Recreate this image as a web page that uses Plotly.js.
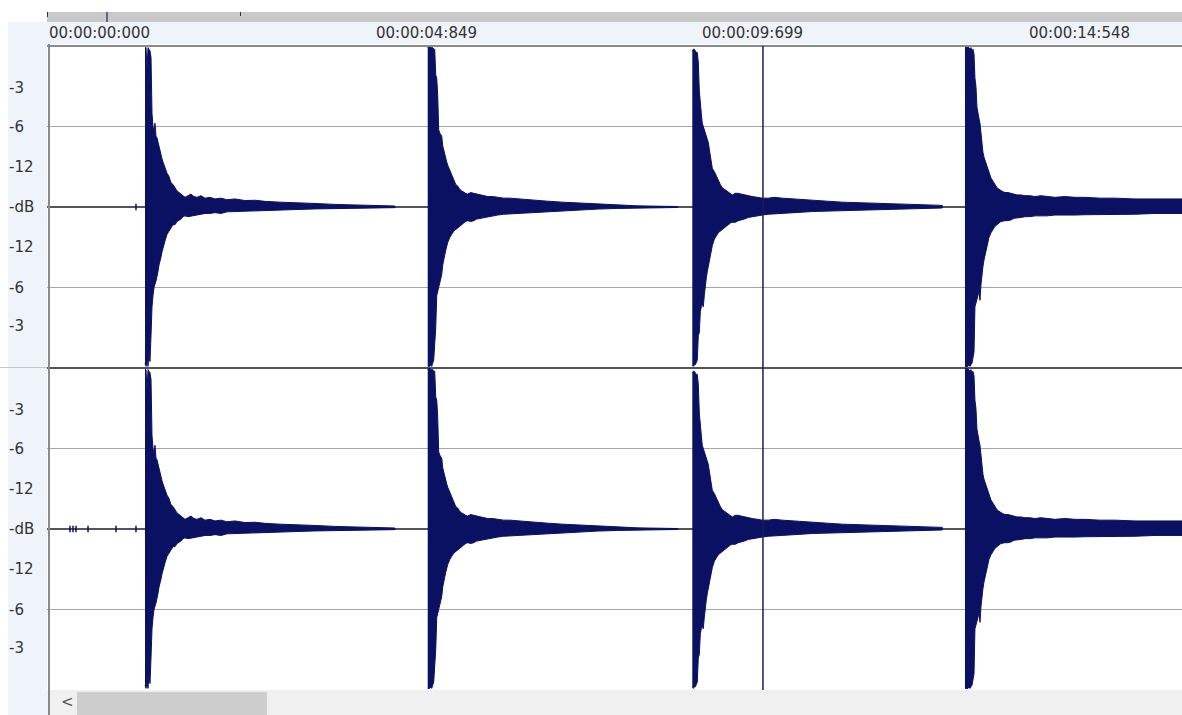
<!DOCTYPE html>
<html><head><meta charset="utf-8">
<script src="https://cdn.plot.ly/plotly-3.0.1.min.js"></script>
<style>
html,body{margin:0;padding:0;background:#fff;width:1182px;height:715px;overflow:hidden;font-family:"DejaVu Sans",sans-serif}
.bg{position:absolute}
#chart{position:absolute;left:0;top:0;width:1182px;height:715px;z-index:1}
.fg{position:absolute;z-index:2;pointer-events:none}
</style></head><body>
<div class="bg" style="left:8px;top:22px;width:40px;height:693px;background:#eef4fa"></div>
<div class="bg" style="left:47px;top:22px;width:1135px;height:22px;background:#eef4fa"></div>
<div class="bg" style="left:47px;top:12px;width:1135px;height:10px;background:#c9c9c9"></div>
<div class="bg" style="left:47px;top:12px;width:1px;height:5px;background:#333"></div>
<div class="bg" style="left:106px;top:12px;width:2px;height:10px;background:#56679a"></div>
<div class="bg" style="left:240px;top:12px;width:1px;height:4px;background:#333"></div>
<div class="bg" style="left:0px;top:367px;width:48px;height:1px;background:#c4c8cc"></div>
<div class="bg" style="left:50px;top:690px;width:1132px;height:25px;background:#f0f0f0"></div>
<div class="bg" style="left:77px;top:692px;width:190px;height:23px;background:#cdcdcd"></div>
<div class="bg" style="left:61px;top:693px;font-size:15px;color:#555">&lt;</div>
<div id="chart"></div>
<div class="fg" style="left:48px;top:44px;width:2px;height:671px;background:#8a8a8a"></div>
<script>
// time offsets (s) after each onset at which the envelope was read
const offsets = [
 0,0.015,0.030,0.045,0.059,0.074,0.089,0.104,0.119,0.134,0.148,0.163,0.178,0.193,0.208,0.223,0.238,0.252,0.267,0.282,0.297,
 0.327,0.356,0.386,0.416,0.445,0.475,0.505,0.534,0.564,0.594,
 0.638,0.683,0.727,0.772,0.831,0.891,0.965,1.039,1.128,1.217,1.336,
 1.485,1.633,1.782,2.004,2.227,2.524,2.821,3.118,3.415,3.711];
const hitTimes = [1.455, 5.652, 9.580, 13.628];
const cursorTime = 10.629;
const rulerTimes = [0, 4.849, 9.699, 14.548];
const rulerLabels = ["00:00:00:000","00:00:04:849","00:00:09:699","00:00:14:548"];
const dbTickVals = [0.74, 0.5, 0.25, 0, -0.25, -0.5, -0.74];
const dbTickText = ["-3","-6","-12","-dB","-12","-6","-3"];
const gridVals = [-0.5, 0.5];

const hit1Upper = [0.99,0.99,0.86,0.99,0.98,0.97,0.93,0.58,0.50,0.47,0.52,0.44,0.43,0.40,0.38,0.35,0.33,0.30,0.28,0.26,0.25,
 0.21,0.19,0.15,0.14,0.12,0.10,0.09,0.08,0.07,0.06,
 0.07,0.08,0.065,0.06,0.07,0.055,0.06,0.05,0.055,0.045,0.05,
 0.04,0.042,0.035,0.03,0.028,0.022,0.016,0.012,0.009,0.006];
const hit1Lower = [0.97,0.99,0.95,0.99,0.90,0.96,0.80,0.62,0.55,0.50,0.48,0.46,0.44,0.40,0.36,0.33,0.31,0.28,0.25,0.23,0.21,
 0.17,0.15,0.13,0.11,0.11,0.09,0.08,0.075,0.06,0.055,
 0.06,0.055,0.05,0.05,0.045,0.04,0.04,0.035,0.04,0.03,0.03,
 0.028,0.026,0.022,0.02,0.016,0.012,0.009,0.007,0.005,0.004];
const hit2Upper = [0.99,1.0,1.0,0.99,0.99,0.99,0.98,0.98,0.82,0.80,0.70,0.48,0.46,0.45,0.44,0.38,0.35,0.33,0.30,0.28,0.26,
 0.23,0.19,0.16,0.14,0.13,0.11,0.10,0.09,0.085,0.08,
 0.09,0.085,0.08,0.075,0.07,0.065,0.065,0.06,0.055,0.055,0.05,
 0.045,0.04,0.036,0.03,0.025,0.016,0.01,0.007,0.005,0.003];
const hit2Lower = [0.99,0.99,0.99,0.98,0.99,0.97,0.95,0.90,0.75,0.55,0.52,0.50,0.48,0.45,0.42,0.36,0.33,0.30,0.27,0.24,0.22,
 0.19,0.17,0.15,0.14,0.13,0.12,0.11,0.10,0.09,0.085,
 0.09,0.085,0.075,0.07,0.065,0.06,0.055,0.05,0.045,0.042,0.04,
 0.035,0.03,0.028,0.024,0.02,0.013,0.009,0.006,0.004,0.003];
const hit3Upper = [0.97,0.98,0.98,0.97,0.96,0.96,0.90,0.72,0.62,0.58,0.52,0.50,0.48,0.46,0.44,0.42,0.40,0.36,0.32,0.26,0.24,
 0.22,0.19,0.16,0.14,0.12,0.11,0.10,0.09,0.08,0.075,
 0.085,0.085,0.08,0.075,0.07,0.065,0.06,0.055,0.055,0.06,0.055,
 0.05,0.045,0.042,0.036,0.03,0.026,0.022,0.018,0.014,0.01];
const hit3Lower = [0.98,0.99,0.98,0.98,0.97,0.95,0.80,0.78,0.65,0.62,0.60,0.62,0.55,0.48,0.44,0.40,0.36,0.33,0.30,0.27,0.24,
 0.20,0.18,0.16,0.15,0.14,0.13,0.12,0.11,0.10,0.095,
 0.095,0.085,0.08,0.075,0.065,0.06,0.055,0.05,0.045,0.042,0.04,
 0.035,0.032,0.028,0.025,0.022,0.018,0.015,0.012,0.009,0.006];
const hit4Upper = [1.0,0.99,1.0,0.99,0.99,0.98,0.99,0.97,0.98,0.95,0.80,0.75,0.62,0.57,0.55,0.52,0.45,0.38,0.34,0.31,0.29,
 0.25,0.21,0.18,0.16,0.14,0.12,0.11,0.10,0.095,0.09,
 0.09,0.085,0.08,0.075,0.075,0.07,0.07,0.065,0.07,0.065,0.06,
 0.065,0.06,0.06,0.055,0.055,0.05,0.05,0.05,0.05,0.05];
const hit4Lower = [0.99,0.99,0.99,0.99,0.98,0.99,0.98,0.97,0.95,0.90,0.62,0.60,0.58,0.55,0.52,0.58,0.48,0.42,0.37,0.33,0.30,
 0.24,0.19,0.16,0.14,0.12,0.11,0.10,0.09,0.088,0.085,
 0.085,0.08,0.07,0.07,0.065,0.06,0.06,0.055,0.055,0.055,0.05,
 0.05,0.05,0.048,0.045,0.045,0.045,0.04,0.04,0.04,0.04];

// channel 2 reads the same as channel 1
const ch1Upper = [hit1Upper, hit2Upper, hit3Upper, hit4Upper];
const ch1Lower = [hit1Lower, hit2Lower, hit3Lower, hit4Lower];
const ch2Upper = ch1Upper;
const ch2Lower = ch1Lower;

// tiny clicks before the first hit
const ch1ClickTimes = [1.321];
const ch2ClickTimes = [0.341, 0.386, 0.431, 0.609, 1.024, 1.321];
const clickAmp = 0.02;

const navy = '#0b1162';
const traces = [];
function addChannel(ups, los, yaxis, clicks) {
  traces.push({x:[0, 16.85], y:[0,0], yaxis:yaxis, mode:'lines', line:{color:'#1a1a2e', width:1.5}, hoverinfo:'skip'});
  hitTimes.forEach((t0, i) => {
    const xs = offsets.map(o => t0 + o);
    const x = xs.concat(xs.slice().reverse());
    const y = ups[i].concat(los[i].slice().reverse().map(v => -v));
    traces.push({x:x, y:y, yaxis:yaxis, mode:'lines', fill:'toself', fillcolor:navy,
      line:{color:navy, width:1}, hoverinfo:'skip'});
  });
  const cx = [], cy = [];
  clicks.forEach(t => { cx.push(t, t, null); cy.push(-clickAmp, clickAmp, null); });
  traces.push({x:cx, y:cy, yaxis:yaxis, mode:'lines', line:{color:navy, width:1.5}, hoverinfo:'skip'});
}
addChannel(ch1Upper, ch1Lower, 'y', ch1ClickTimes);
addChannel(ch2Upper, ch2Lower, 'y2', ch2ClickTimes);

const font = {family:'DejaVu Sans, sans-serif', size:15, color:'#333'};
const annotations = [];
rulerTimes.forEach((t, i) => annotations.push({x:t, xref:'x', y:1.0202, yref:'paper', text:rulerLabels[i],
  showarrow:false, xanchor:'left', yanchor:'middle', font:font}));
['y','y2'].forEach(ax => dbTickVals.forEach((v, i) => annotations.push({x:-0.0352, xref:'paper', y:v, yref:ax,
  text:dbTickText[i], showarrow:false, xanchor:'left', yanchor:'middle', font:font})));

const yax = (dom) => ({domain:dom, range:[-1,1], tickvals:gridVals, showticklabels:false, ticks:'',
  showgrid:true, gridcolor:'#a6a6a6', gridwidth:1, zeroline:false, showline:false, fixedrange:true});

const layout = {
  width:1182, height:715, margin:{l:47, r:0, t:46, b:25},
  paper_bgcolor:'rgba(0,0,0,0)', plot_bgcolor:'#ffffff', showlegend:false,
  xaxis:{range:[0,16.85], showticklabels:false, ticks:'', showgrid:false, zeroline:false, showline:false, fixedrange:true},
  yaxis:yax([0.5,1]), yaxis2:yax([0,0.5]),
  annotations:annotations,
  shapes:[
    {type:'line', xref:'paper', yref:'paper', x0:0, x1:1, y0:0.5, y1:0.5, line:{color:'#1a1a1a', width:1.5}},
    {type:'line', xref:'paper', yref:'paper', x0:0, x1:1, y0:1, y1:1, line:{color:'#8a8a8a', width:2}},
    {type:'line', xref:'x', yref:'paper', x0:cursorTime, x1:cursorTime, y0:0, y1:1, line:{color:'#1c1c50', width:1.5}}
  ]
};
Plotly.newPlot('chart', traces, layout, {staticPlot:true, displayModeBar:false});
</script>
</body></html>
